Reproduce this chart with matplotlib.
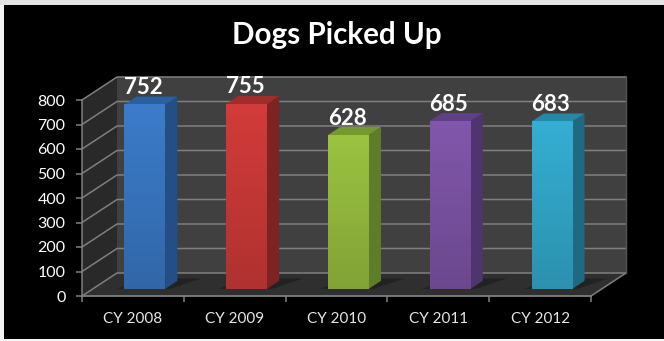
import numpy as np
import matplotlib
matplotlib.use('Agg')
import matplotlib.pyplot as plt
from matplotlib.patches import Polygon, Rectangle

categories = ['CY 2008', 'CY 2009', 'CY 2010', 'CY 2011', 'CY 2012']
values = [752, 755, 628, 685, 683]
yticks = [0, 100, 200, 300, 400, 500, 600, 700, 800]
front_colors = ['#3a78c4', '#cc3a38', '#97bd3f', '#7d54a6', '#33a9cc']
side_colors = ['#234f86', '#7d2422', '#5f7d28', '#4f3570', '#1f6a82']
top_colors = ['#2a609f', '#a02d2b', '#76992f', '#5f3f85', '#2788a6']

W, H = 664, 341
plt.rcParams['font.family'] = ['Lato', 'DejaVu Sans']
fig = plt.figure(figsize=(W / 100, H / 100), dpi=100, facecolor='#f4f4f4')

# black slide behind the chart
fig.patches.append(Rectangle((4 / W, 1 - 339 / H), 660 / W, 334 / H, transform=fig.transFigure,
                             facecolor='black', edgecolor='none', zorder=-2))
fig.patches.append(Rectangle((0, 1 - 5 / H), 1, 5 / H, transform=fig.transFigure,
                             facecolor='#e4e4e4', edgecolor='none', zorder=-2))

# front plane of the axes: x 82..591, y 296..100 in pixels
ax = fig.add_axes([82 / W, 1 - 296 / H, 509 / W, 196 / H])
ax.set_xlim(0, 5)
ax.set_ylim(0, 800)
ax.patch.set_visible(False)
for s in ax.spines.values():
    s.set_visible(False)

DX = 35 / (509 / 5)   # full depth, category units
DY = 23 / (196 / 800)  # full depth, value units
GRID = '#7f7f7f'


def off(x, y, d):
    return (x + DX * d, y + DY * d)


def poly(pts, color, z, **kw):
    p = Polygon(pts, closed=True, facecolor=color, edgecolor='none', zorder=z, clip_on=False, **kw)
    ax.add_patch(p)
    return p


# back wall, left wall, floor
poly([off(0, 0, 1), off(5, 0, 1), off(5, 800, 1), off(0, 800, 1)], '#404040', 1)
poly([off(0, 0, 0), off(0, 0, 1), off(0, 800, 1), off(0, 800, 0)], '#292929', 1)
poly([off(0, 0, 0), off(5, 0, 0), off(5, 0, 1), off(0, 0, 1)], '#2f2f2f', 1)

for v in yticks:
    a, b, c = off(0, v, 0), off(0, v, 1), off(5, v, 1)
    ax.plot([a[0], b[0], c[0]], [a[1], b[1], c[1]], color=GRID, lw=1.1, zorder=2, clip_on=False)
ax.plot([0, 0], [0, 800], color=GRID, lw=1.1, zorder=3, clip_on=False)
ax.plot([0, 5], [0, 0], color=GRID, lw=1.3, zorder=3, clip_on=False)
a, b = off(5, 0, 0), off(5, 0, 1)
ax.plot([a[0], b[0]], [a[1], b[1]], color=GRID, lw=1.1, zorder=2, clip_on=False)
a, b = off(5, 0, 1), off(5, 800, 1)
ax.plot([a[0], b[0]], [a[1], b[1]], color='#555555', lw=1, zorder=2, clip_on=False)

ax.set_yticks(yticks)
ax.set_xticks(range(6))
ax.set_xticklabels([])
ax.set_xticks(np.arange(5) + 0.5, minor=True)
ax.set_xticklabels(categories, minor=True)
ax.tick_params(axis='x', which='major', length=4, width=1.1, color=GRID, direction='out')
ax.tick_params(axis='x', which='minor', length=0, pad=11.5, labelsize=11, labelcolor='#e6e6e6')
ax.tick_params(axis='y', length=4.3, width=1.1, color=GRID, labelsize=11.5, labelcolor='white', pad=7.5)

# bars sit a bit into the depth of the floor
BAR_W = 0.4
D0, D1 = 0.31, 0.66
for i, v in enumerate(values):
    x0 = i + 0.51 - BAR_W / 2
    x1 = x0 + BAR_W
    # floor shadow
    poly([off(x0 - 0.08, 0, D0), off(x1 + 0.05, 0, D0), off(x1 + 0.2, 0, D1 + 0.1), off(x0 + 0.05, 0, D1 + 0.1)],
         '#222222', 3)
    f0 = off(x0, 0, D0)
    f1 = off(x1, v, D0)
    poly([(f1[0], f0[1]), off(x1, 0, D1), off(x1, v, D1), f1], side_colors[i], 4)
    poly([(f0[0], f1[1]), f1, off(x1, v, D1), off(x0, v, D1)], top_colors[i], 4)
    # front face, slightly darker to the bottom
    rgb = matplotlib.colors.to_rgb(front_colors[i])
    grad = np.array([[c * (1.03 - 0.17 * t) for c in rgb] for t in np.linspace(0, 1, 40)]).clip(0, 1)
    im = ax.imshow(grad[:, None, :], extent=(f0[0], f1[0], f0[1], f1[1]), aspect='auto', zorder=5, origin='upper')
    # imshow must not alter the limits
    ax.set_xlim(0, 5)
    ax.set_ylim(0, 800)
    im.set_clip_on(False)
    lx, ly = off(i + 0.5, v, 0.33)
    ax.annotate(str(v), (lx, ly), xytext=(-1, 6), textcoords='offset pixels', ha='center', va='bottom',
                color='white', fontsize=16, fontweight='bold', zorder=7, annotation_clip=False)

fig.text(337 / W, 1 - 35 / H, 'Dogs Picked Up', color='white', fontsize=21.3, fontweight='bold',
         ha='center', va='center')

fig.savefig('out.png', dpi=100, facecolor=fig.get_facecolor())
